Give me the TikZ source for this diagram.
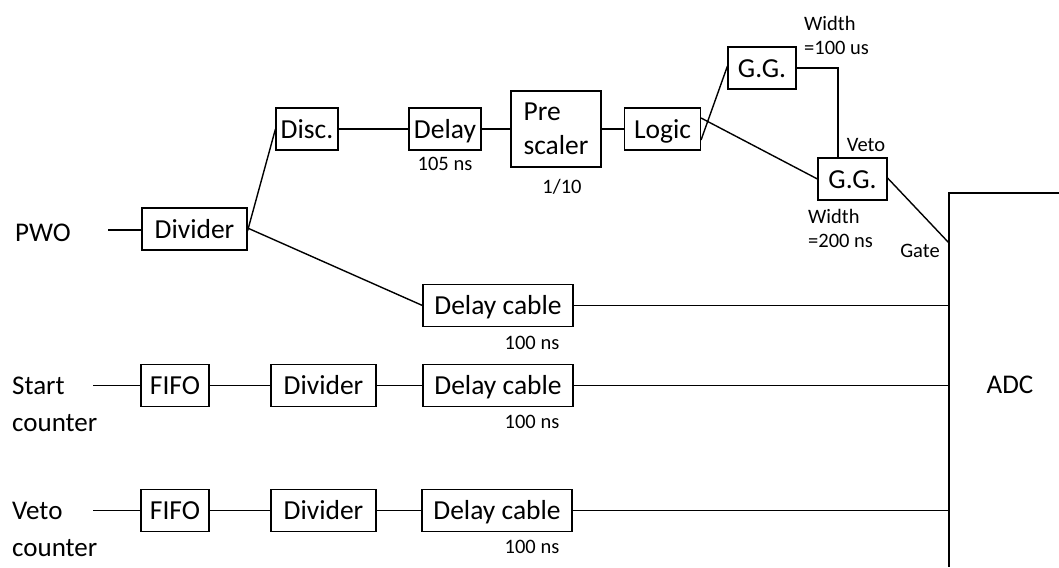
\documentclass[tikz,border=0pt]{standalone}
\usepackage{fontspec}
\setmainfont{Carlito}
\begin{document}
\begin{tikzpicture}[x=1pt,y=-1pt,
  box/.style={draw, line width=1.1pt, inner sep=0pt, minimum height=42pt, text height=23pt, text depth=4.5pt, font=\fontsize{27.5}{34}\selectfont},
  prebox/.style={draw, line width=1.1pt, inner sep=0pt, align=left, font=\fontsize{27.5}{34}\selectfont},
  lbl/.style={inner sep=0pt, font=\fontsize{20.5}{24}\selectfont},
  txt/.style={inner sep=0pt, font=\fontsize{27}{30}\selectfont},
  wire/.style={line width=1.4pt}]
\useasboundingbox[fill=white] (0,0) rectangle (1059,567);
% PWO branch
\node[txt, anchor=base west] (pwo) at (15,241) {PWO};
\coordinate (pwoend) at (108,230);
\node[box, minimum width=105] (div1) at (194.5,229) {Divider};
\node[box, minimum width=62] (disc) at (307,129) {Disc.};
\node[box, minimum width=72] (delay) at (445,129) {Delay};
\node[lbl] (l105) at (445,164) {105 ns};
\node[prebox, minimum width=90, minimum height=76] (pre) at (556,129) {Pre\\scaler};
\node[lbl] (l110) at (562,187) {1/10};
\node[box, minimum width=76] (logic) at (662.5,129) {Logic};
\node[box, minimum width=68] (gg1) at (762,68) {G.G.};
\node[box, minimum width=69] (gg2) at (852.5,179) {G.G.};
\node[lbl, anchor=west] (w1a) at (804,23) {Width};
\node[lbl, anchor=west] (w1b) at (804,48) {=100 us};
\node[lbl, anchor=west] (w2a) at (808,216) {Width};
\node[lbl, anchor=west] (w2b) at (808,241) {=200 ns};
\node[lbl] (veto) at (866,145) {Veto};
\node[lbl] (gate) at (920,251) {Gate};
\node[box, minimum width=150] (dc1) at (498,305.5) {Delay cable};
\node[lbl] (l1) at (532,343) {100 ns};
% Start counter
\node[txt, anchor=base west] (start) at (12,394) {Start};
\node[txt, anchor=base west] (sc) at (12,431) {counter};
\coordinate (startend) at (93,385.5);
\node[box, minimum width=68] (fifo1) at (175,385.5) {FIFO};
\node[box, minimum width=105] (div2) at (323.5,385.5) {Divider};
\node[box, minimum width=150] (dc2) at (498,385.5) {Delay cable};
\node[lbl] (l2) at (532,422) {100 ns};
% Veto counter
\node[txt, anchor=base west] (vetoc) at (12,519) {Veto};
\node[txt, anchor=base west] (vc) at (12,556) {counter};
\coordinate (vetoend) at (93,510.5);
\node[box, minimum width=68] (fifo2) at (175,510.5) {FIFO};
\node[box, minimum width=105] (div3) at (323.5,510.5) {Divider};
\node[box, minimum width=150] (dc3) at (497,510.5) {Delay cable};
\node[lbl] (l3) at (532,547) {100 ns};
% ADC
\coordinate (adctr) at (1059,193);
\coordinate (adctl) at (949,193);
\coordinate (adcbl) at (949,567);
\coordinate (adcgate) at (949,243);
\node[txt] (adc) at (1010,385) {ADC};
\draw[line width=1.1pt] (adctr) -- (adctl) -- (adcbl);
% wires
\draw[wire] (pwoend) -- (pwoend -| div1.west);
\draw[wire] ([yshift=-2]div1.east) -- (disc.west);
\draw[wire] ([yshift=1]div1.east) -- (dc1.west);
\draw[wire] (disc) -- (delay);
\draw[wire] (delay) -- (delay -| pre.west);
\draw[wire] (logic -| pre.east) -- (logic);
\draw[wire] ([yshift=-11]logic.east) -- ([yshift=2]gg1.west);
\draw[wire] ([yshift=11]logic.east) -- (gg2.west);
\draw[wire] (gg1.east) -| ([xshift=-14.5]gg2.north);
\draw[wire] ([yshift=1]gg2.east) -- (adcgate);
\draw[wire] (dc1.east) -- (dc1.east -| adctl);
\draw[wire] (startend) -- (fifo1);
\draw[wire] (fifo1) -- (div2);
\draw[wire] (div2) -- (dc2);
\draw[wire] (dc2.east) -- (dc2.east -| adctl);
\draw[wire] (vetoend) -- (fifo2);
\draw[wire] (fifo2) -- (div3);
\draw[wire] (div3) -- (dc3);
\draw[wire] (dc3.east) -- (dc3.east -| adctl);
\end{tikzpicture}
\end{document}
